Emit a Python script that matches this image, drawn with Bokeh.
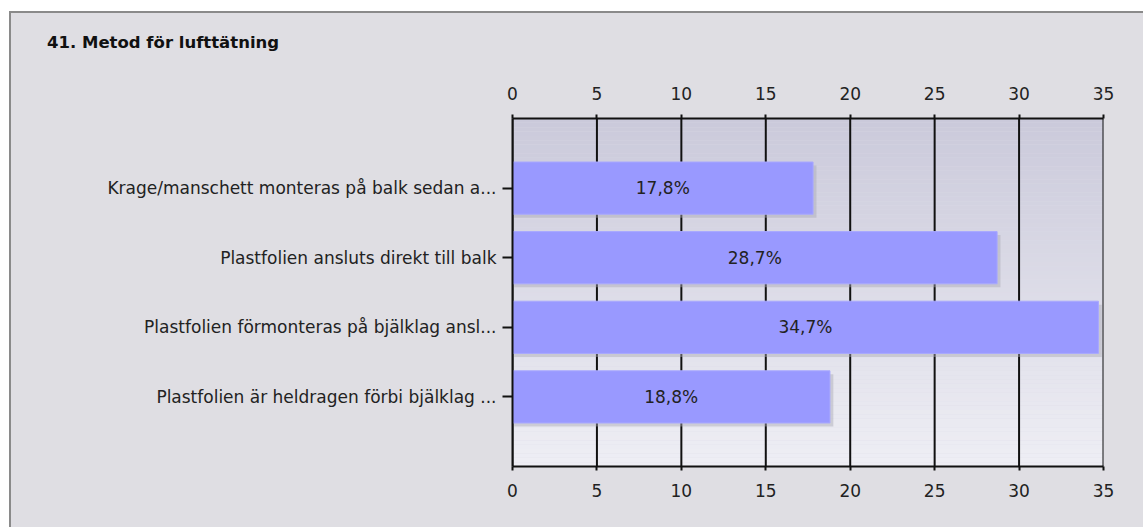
import numpy as np
from bokeh.plotting import figure
from bokeh.layouts import column
from bokeh.models import (ColumnDataSource, Range1d, LinearAxis, FixedTicker, Div)
from bokeh.embed import file_html
from bokeh.resources import INLINE
from bokeh.core.properties import value

# ---- data ----
categories = [
    "Krage/manschett monteras på balk sedan a...",
    "Plastfolien ansluts direkt till balk",
    "Plastfolien förmonteras på bjälklag ansl...",
    "Plastfolien är heldragen förbi bjälklag ...",
]
percent = [17.8, 28.7, 34.7, 18.8]
bar_labels = ["17,8%", "28,7%", "34,7%", "18,8%"]
x_ticks = [0, 5, 10, 15, 20, 25, 30, 35]
title_text = "41. Metod för lufttätning"

FONT = "DejaVu Sans"
FS = "17px"
BG = "#dfdee3"
pos = list(range(1, len(categories) + 1))
n = len(categories)

src = ColumnDataSource(dict(
    y=pos, v=percent, lab=bar_labels,
    mid=[v / 2 for v in percent],
    ys=[p_ + 0.05 for p_ in pos],
    vs=[v + 0.2 for v in percent],
))

p = figure(width=1132, height=474, output_backend="svg", toolbar_location=None,
           x_range=Range1d(0, x_ticks[-1]), y_range=Range1d(n + 1, 0),
           x_axis_location=None, y_axis_location=None,
           min_border_left=501, min_border_right=40, min_border_top=65,
           min_border_bottom=61, margin=0)
p.background_fill_color = "#dcdbe7"
p.border_fill_color = BG
p.outline_line_color = None

# gradient background of the plot frame (top darker, bottom lighter)
nb = 80
edges = np.linspace(0, n + 1, nb + 1)
c0 = np.array([0xcb, 0xca, 0xdb])
c1 = np.array([0xef, 0xef, 0xf5])
cols = []
for i in range(nb):
    t = (i + 0.5) / nb
    c = (c0 * (1 - t) + c1 * t).astype(int)
    cols.append("#%02x%02x%02x" % tuple(c))
p.quad(left=0, right=x_ticks[-1], top=edges[:-1], bottom=edges[1:],
       fill_color=cols, line_color=None)

# axes
top_ax = LinearAxis(ticker=FixedTicker(ticks=x_ticks))
bot_ax = LinearAxis(ticker=FixedTicker(ticks=x_ticks))
for ax in (top_ax, bot_ax):
    ax.axis_line_color = "#111111"
    ax.axis_line_width = 2
    ax.major_tick_line_color = "#111111"
    ax.major_tick_line_width = 2
    ax.major_tick_out = 4
    ax.major_tick_in = 0
    ax.minor_tick_line_color = None
    ax.major_label_text_font = FONT
    ax.major_label_text_font_size = FS
    ax.major_label_text_color = "#222222"
top_ax.major_label_standoff = 15
bot_ax.major_label_standoff = 13
p.add_layout(top_ax, "above")
p.add_layout(bot_ax, "below")

left_ax = LinearAxis(ticker=FixedTicker(ticks=pos))
left_ax.major_label_overrides = {pp: c for pp, c in zip(pos, categories)}
left_ax.axis_line_color = "#111111"
left_ax.axis_line_width = 2
left_ax.major_tick_line_color = "#111111"
left_ax.major_tick_line_width = 2
left_ax.major_tick_out = 10
left_ax.major_tick_in = 0
left_ax.minor_tick_line_color = None
left_ax.major_label_text_font = FONT
left_ax.major_label_text_font_size = FS
left_ax.major_label_text_color = "#222222"
left_ax.major_label_standoff = 6
p.add_layout(left_ax, "left")

# vertical grid lines (drawn as renderers under the bars)
p.segment(x0=x_ticks, x1=x_ticks, y0=0, y1=n + 1, line_color="#111111", line_width=2)
p.xgrid.visible = False
p.ygrid.visible = False

# shadows and bars
p.hbar(y="ys", left=0.1, right="vs", height=0.75, source=src,
       fill_color="#a9a8b4", fill_alpha=0.45, line_color=None)
p.hbar(y="y", left=0, right="v", height=0.75, source=src,
       fill_color="#9999ff", line_color="#a8a8ff", line_width=1)
p.text(x="mid", y="y", text="lab", source=src, text_align="center",
       text_baseline="middle", text_font=value(FONT), text_font_size=FS,
       text_color="#222222")

# title as a header above the plot
title = Div(
    text=('<div style="padding:20px 0 0 36px; font-family:\'DejaVu Sans\'; '
          'font-size:16.5px; font-weight:bold; color:#111111; line-height:19px; '
          'white-space:nowrap;">' + title_text + '</div>'),
    width=1132, height=40, margin=0,
    styles={"background-color": BG})

layout = column(title, p, spacing=0, margin=0,
                styles={"border-top": "2px solid #8a8a8a",
                        "border-left": "2px solid #8a8a8a",
                        "margin-top": "11px", "margin-left": "9px",
                        "background-color": BG})

open("out.html", "w").write(file_html(layout, INLINE))
